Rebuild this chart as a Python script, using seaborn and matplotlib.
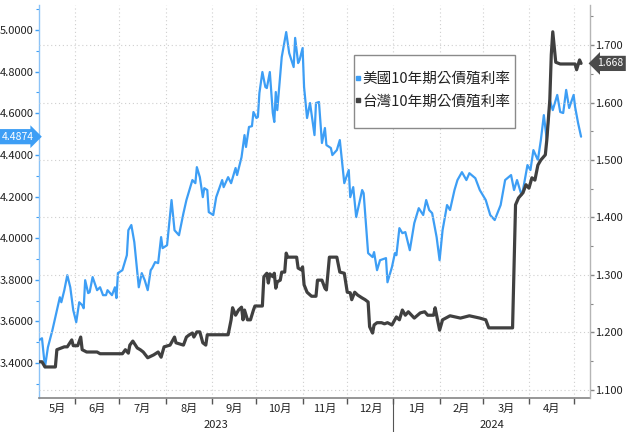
import matplotlib
matplotlib.use("Agg")
import matplotlib.pyplot as plt
import matplotlib.dates as mdates
import matplotlib.ticker as mticker
import matplotlib.transforms as mtrans
from matplotlib.lines import Line2D
from matplotlib.patches import Rectangle
import pandas as pd
import seaborn as sns

us_dates = [
    "2023-05-08", "2023-05-10", "2023-05-12", "2023-05-14", "2023-05-17", "2023-05-20", "2023-05-22", "2023-05-23",
    "2023-05-25", "2023-05-27", "2023-05-29", "2023-05-31", "2023-06-02", "2023-06-04", "2023-06-06", "2023-06-07",
    "2023-06-08", "2023-06-10", "2023-06-11", "2023-06-13", "2023-06-16", "2023-06-18", "2023-06-20", "2023-06-22",
    "2023-06-23", "2023-06-26", "2023-06-28", "2023-06-29", "2023-06-30", "2023-07-03", "2023-07-06", "2023-07-07",
    "2023-07-09", "2023-07-11", "2023-07-14", "2023-07-16", "2023-07-18", "2023-07-20", "2023-07-22", "2023-07-23",
    "2023-07-25", "2023-07-27", "2023-07-29", "2023-07-30", "2023-08-02", "2023-08-05", "2023-08-07", "2023-08-10",
    "2023-08-13", "2023-08-15", "2023-08-19", "2023-08-21", "2023-08-22", "2023-08-24", "2023-08-26", "2023-08-27",
    "2023-08-29", "2023-08-30", "2023-09-02", "2023-09-04", "2023-09-08", "2023-09-09", "2023-09-12", "2023-09-14",
    "2023-09-17", "2023-09-18", "2023-09-21", "2023-09-23", "2023-09-24", "2023-09-26", "2023-09-28", "2023-09-29",
    "2023-10-01", "2023-10-02", "2023-10-03", "2023-10-05", "2023-10-07", "2023-10-08", "2023-10-10", "2023-10-12",
    "2023-10-13", "2023-10-14", "2023-10-15", "2023-10-18", "2023-10-21", "2023-10-23", "2023-10-26", "2023-10-27",
    "2023-10-29", "2023-10-30", "2023-11-01", "2023-11-02", "2023-11-04", "2023-11-06", "2023-11-09", "2023-11-10",
    "2023-11-12", "2023-11-14", "2023-11-16", "2023-11-17", "2023-11-20", "2023-11-21", "2023-11-24", "2023-11-26",
    "2023-11-29", "2023-12-02", "2023-12-03", "2023-12-05", "2023-12-07", "2023-12-11", "2023-12-12", "2023-12-15",
    "2023-12-18", "2023-12-19", "2023-12-21", "2023-12-23", "2023-12-27", "2023-12-28", "2023-12-31", "2024-01-02",
    "2024-01-03", "2024-01-05", "2024-01-07", "2024-01-09", "2024-01-12", "2024-01-15", "2024-01-18", "2024-01-21",
    "2024-01-23", "2024-01-25", "2024-01-27", "2024-01-30", "2024-02-01", "2024-02-03", "2024-02-06", "2024-02-08",
    "2024-02-11", "2024-02-13", "2024-02-16", "2024-02-19", "2024-02-21", "2024-02-25", "2024-02-28", "2024-03-03",
    "2024-03-06", "2024-03-09", "2024-03-13", "2024-03-16", "2024-03-20", "2024-03-22", "2024-03-24", "2024-03-27",
    "2024-03-28", "2024-03-31", "2024-04-02", "2024-04-04", "2024-04-07", "2024-04-09", "2024-04-11", "2024-04-13",
    "2024-04-15", "2024-04-17", "2024-04-20", "2024-04-22", "2024-04-24", "2024-04-26", "2024-04-28", "2024-05-01",
    "2024-05-02", "2024-05-04", "2024-05-06",
]
us_yield = [
    3.510, 3.519, 3.380, 3.476, 3.558, 3.654, 3.716, 3.692,
    3.750, 3.822, 3.764, 3.654, 3.596, 3.692, 3.678, 3.663,
    3.798, 3.736, 3.740, 3.813, 3.750, 3.764, 3.726, 3.726,
    3.750, 3.726, 3.764, 3.712, 3.832, 3.846, 3.918, 4.038,
    4.063, 3.981, 3.764, 3.832, 3.798, 3.750, 3.846, 3.856,
    3.885, 3.880, 4.005, 3.952, 3.966, 4.183, 4.038, 4.014,
    4.120, 4.183, 4.279, 4.264, 4.341, 4.293, 4.197, 4.240,
    4.231, 4.125, 4.111, 4.197, 4.279, 4.245, 4.293, 4.264,
    4.337, 4.303, 4.389, 4.495, 4.438, 4.534, 4.538, 4.606,
    4.577, 4.582, 4.697, 4.798, 4.726, 4.721, 4.798, 4.601,
    4.558, 4.702, 4.615, 4.870, 4.990, 4.889, 4.822, 4.962,
    4.841, 4.856, 4.913, 4.726, 4.577, 4.649, 4.495, 4.649,
    4.654, 4.457, 4.529, 4.447, 4.433, 4.399, 4.423, 4.471,
    4.264, 4.327, 4.197, 4.245, 4.101, 4.231, 4.216, 3.928,
    3.909, 3.933, 3.846, 3.894, 3.904, 3.788, 3.861, 3.928,
    3.918, 4.048, 4.024, 4.029, 3.942, 4.072, 4.144, 4.111,
    4.183, 4.135, 4.120, 4.005, 3.894, 4.038, 4.159, 4.135,
    4.231, 4.279, 4.317, 4.279, 4.312, 4.288, 4.231, 4.183,
    4.111, 4.087, 4.159, 4.279, 4.303, 4.231, 4.279, 4.207,
    4.231, 4.351, 4.327, 4.423, 4.375, 4.471, 4.591, 4.471,
    4.663, 4.615, 4.688, 4.606, 4.601, 4.712, 4.625, 4.688,
    4.630, 4.553, 4.4874,
]

tw_dates = [
    "2023-05-08", "2023-05-10", "2023-05-12", "2023-05-19", "2023-05-20", "2023-05-23", "2023-05-25", "2023-05-27",
    "2023-05-30", "2023-05-31", "2023-06-03", "2023-06-05", "2023-06-06", "2023-06-09", "2023-06-16", "2023-06-18",
    "2023-07-03", "2023-07-05", "2023-07-07", "2023-07-08", "2023-07-10", "2023-07-13", "2023-07-15", "2023-07-17",
    "2023-07-20", "2023-07-24", "2023-07-27", "2023-07-29", "2023-07-31", "2023-08-04", "2023-08-07", "2023-08-08",
    "2023-08-13", "2023-08-15", "2023-08-17", "2023-08-19", "2023-08-20", "2023-08-22", "2023-08-24", "2023-08-26",
    "2023-08-28", "2023-08-29", "2023-09-12", "2023-09-14", "2023-09-15", "2023-09-17", "2023-09-19", "2023-09-21",
    "2023-09-22", "2023-09-23", "2023-09-25", "2023-09-27", "2023-09-29", "2023-09-30", "2023-10-05", "2023-10-06",
    "2023-10-08", "2023-10-09", "2023-10-10", "2023-10-12", "2023-10-13", "2023-10-14", "2023-10-15", "2023-10-17",
    "2023-10-18", "2023-10-20", "2023-10-21", "2023-10-22", "2023-10-28", "2023-10-29", "2023-10-31", "2023-11-01",
    "2023-11-02", "2023-11-04", "2023-11-07", "2023-11-10", "2023-11-11", "2023-11-14", "2023-11-16", "2023-11-17",
    "2023-11-19", "2023-11-24", "2023-11-26", "2023-11-29", "2023-12-01", "2023-12-03", "2023-12-04", "2023-12-06",
    "2023-12-08", "2023-12-11", "2023-12-13", "2023-12-15", "2023-12-16", "2023-12-18", "2023-12-19", "2023-12-21",
    "2023-12-24", "2023-12-26", "2023-12-28", "2023-12-31", "2024-01-03", "2024-01-05", "2024-01-07", "2024-01-09",
    "2024-01-11", "2024-01-15", "2024-01-19", "2024-01-22", "2024-01-24", "2024-01-28", "2024-01-29", "2024-02-01",
    "2024-02-03", "2024-02-08", "2024-02-15", "2024-02-21", "2024-02-28", "2024-03-03", "2024-03-05", "2024-03-21",
    "2024-03-23", "2024-03-25", "2024-03-28", "2024-03-30", "2024-04-01", "2024-04-03", "2024-04-05", "2024-04-07",
    "2024-04-09", "2024-04-12", "2024-04-13", "2024-04-15", "2024-04-16", "2024-04-17", "2024-04-19", "2024-04-22",
    "2024-05-02", "2024-05-03", "2024-05-05", "2024-05-06",
]
tw_yield = [
    1.149, 1.149, 1.140, 1.140, 1.170, 1.173, 1.175, 1.175,
    1.187, 1.177, 1.177, 1.192, 1.170, 1.166, 1.166, 1.163,
    1.163, 1.170, 1.164, 1.178, 1.185, 1.173, 1.170, 1.166,
    1.156, 1.161, 1.166, 1.157, 1.175, 1.178, 1.192, 1.182,
    1.178, 1.192, 1.196, 1.199, 1.192, 1.201, 1.201, 1.182,
    1.178, 1.196, 1.196, 1.222, 1.243, 1.230, 1.239, 1.244,
    1.222, 1.239, 1.222, 1.222, 1.239, 1.246, 1.246, 1.297,
    1.303, 1.286, 1.302, 1.297, 1.303, 1.277, 1.288, 1.291,
    1.305, 1.305, 1.338, 1.331, 1.331, 1.312, 1.309, 1.314,
    1.283, 1.270, 1.263, 1.263, 1.291, 1.291, 1.277, 1.274,
    1.331, 1.331, 1.305, 1.303, 1.270, 1.269, 1.257, 1.270,
    1.265, 1.260, 1.257, 1.253, 1.210, 1.199, 1.213, 1.217,
    1.217, 1.215, 1.217, 1.213, 1.227, 1.222, 1.239, 1.230,
    1.236, 1.225, 1.234, 1.236, 1.230, 1.230, 1.243, 1.204,
    1.222, 1.229, 1.225, 1.229, 1.225, 1.222, 1.208, 1.208,
    1.422, 1.434, 1.443, 1.457, 1.451, 1.469, 1.465, 1.491,
    1.500, 1.509, 1.535, 1.604, 1.683, 1.723, 1.670, 1.667,
    1.667, 1.657, 1.674, 1.668,
]

month_labels = ["5月", "6月", "7月", "8月", "9月", "10月", "11月", "12月", "1月", "2月", "3月", "4月"]
year_labels = ["2023", "2024"]
series_names = ["美國10年期公債殖利率", "台灣10年期公債殖利率"]

BLUE = "#3d9ef5"
DARK = "#404040"

sns.set_theme(style="white")
plt.rcParams["font.family"] = ["Liberation Sans Narrow", "Noto Sans CJK TC", "DejaVu Sans"]

us = pd.DataFrame({"date": pd.to_datetime(us_dates), "yield": us_yield})
tw = pd.DataFrame({"date": pd.to_datetime(tw_dates), "yield": tw_yield})

W, H = 627, 432
fig = plt.figure(figsize=(W / 100, H / 100), dpi=100)
ax = fig.add_axes([39 / W, 1 - 398 / H, (590 - 39) / W, (398 - 5) / H])
ax2 = ax.twinx()

sns.lineplot(data=us, x="date", y="yield", ax=ax, color=BLUE, linewidth=1.6, zorder=3)
sns.lineplot(data=tw, x="date", y="yield", ax=ax2, color=DARK, linewidth=2.3, zorder=3)

xmin, xmax = pd.Timestamp("2023-05-08"), pd.Timestamp("2024-05-12")
ax.set_xlim(xmin, xmax)
ax.set_ylim(3.232, 5.12)
ax2.set_ylim(1.086, 1.7696)

for a in (ax, ax2):
    a.set_xlabel("")
    a.set_ylabel("")

# left axis
ax.yaxis.set_major_locator(mticker.MultipleLocator(0.2))
ax.yaxis.set_minor_locator(mticker.MultipleLocator(0.1))
ax.yaxis.set_major_formatter(mticker.FormatStrFormatter("%.4f"))
ax.tick_params(axis="y", which="both", direction="out", left=True, colors=BLUE,
               labelcolor="#222222", labelsize=8, pad=1)
ax.tick_params(axis="y", which="major", length=3, width=1)
ax.tick_params(axis="y", which="minor", length=2, width=0.8)

# right axis
ax2.yaxis.set_major_locator(mticker.MultipleLocator(0.1))
ax2.yaxis.set_minor_locator(mticker.MultipleLocator(0.05))
ax2.yaxis.set_major_formatter(mticker.FormatStrFormatter("%.3f"))
ax2.tick_params(axis="y", which="both", direction="out", right=True, colors="#888888",
                labelcolor="#222222", labelsize=8, pad=1)
ax2.tick_params(axis="y", which="major", length=3, width=1)
ax2.tick_params(axis="y", which="minor", length=2, width=0.8)

# x axis: ticks at month starts, labels centered in months
month_starts = pd.date_range("2023-06-01", "2024-05-01", freq="MS")
ax.xaxis.set_major_locator(mticker.FixedLocator(mdates.date2num(month_starts)))
ax.xaxis.set_major_formatter(mticker.NullFormatter())
label_starts = pd.date_range("2023-05-01", "2024-04-01", freq="MS")
centers = []
for s in label_starts:
    e = s + pd.offsets.MonthBegin(1)
    lo, hi = max(s, xmin), min(e, xmax)
    centers.append(lo + (hi - lo) / 2)
ax.xaxis.set_minor_locator(mticker.FixedLocator(mdates.date2num(centers)))
ax.xaxis.set_minor_formatter(mticker.FixedFormatter(month_labels))
ax.tick_params(axis="x", which="major", direction="out", length=4, width=1, colors="#555555", bottom=True)
ax.tick_params(axis="x", which="minor", length=0, labelsize=8, labelcolor="#222222", pad=4)
ax2.tick_params(axis="x", which="both", length=0)

# grids
ax.grid(False)
ax2.grid(False)
ax.xaxis.grid(True, which="major", linestyle=(0, (1, 2.5)), color="#cfcfcf", linewidth=0.8)
ax2.yaxis.grid(True, which="major", linestyle=(0, (1, 2.5)), color="#cfcfcf", linewidth=0.8)
ax.set_axisbelow(True)
ax2.set_axisbelow(True)

# spines
for a in (ax, ax2):
    a.spines["top"].set_visible(False)
ax.spines["right"].set_visible(False)
ax2.spines["left"].set_visible(False)
ax.spines["left"].set_color("#8cc3f7")
ax.spines["left"].set_linewidth(1.0)
ax2.spines["right"].set_color("#b5b5b5")
ax2.spines["right"].set_linewidth(1.0)
ax.spines["bottom"].set_color("#8a8a8a")
ax2.spines["bottom"].set_visible(False)

# year labels and separator
blend = mtrans.blended_transform_factory(ax.transData, ax.transAxes)
jan1 = pd.Timestamp("2024-01-01")
year_pos = [xmin + (jan1 - xmin) / 2, jan1 + (xmax - jan1) / 2]
for yp, lab in zip(year_pos, year_labels):
    ax.text(yp, -0.068, lab, transform=blend, ha="center", va="center", fontsize=8, color="#222222")
ax.plot([jan1] * 2, [0, -0.09], transform=blend, clip_on=False, color="#555555", linewidth=0.8)

# last-value tags
ax.annotate(f"{us_yield[-1]:.4f}", xy=(0, us_yield[-1]), xycoords=("axes fraction", "data"),
            xytext=(-4, 0), textcoords="offset points", ha="right", va="center",
            fontsize=7.5, color="white",
            bbox=dict(boxstyle="rarrow,pad=0.25", fc="#3d9ef5", ec="none"))
ax2.annotate(f"{tw_yield[-1]:.3f}", xy=(1, tw_yield[-1]), xycoords=("axes fraction", "data"),
             xytext=(5, 0), textcoords="offset points", ha="left", va="center",
             fontsize=7.5, color="white",
             bbox=dict(boxstyle="larrow,pad=0.25", fc="#4a4a4a", ec="none"))

# legend: framed box with two entries
fig.patches.append(Rectangle((354 / W, 1 - 128 / H), 161 / W, 73 / H, transform=fig.transFigure,
                             facecolor="white", edgecolor="#8a8a8a", linewidth=1.0, zorder=5))
handles = [Line2D([], [], marker="s", linestyle="none", markersize=3.5, color=BLUE),
           Line2D([], [], marker="s", linestyle="none", markersize=3.5, color=DARK)]
leg = fig.legend(handles, series_names, loc="center left", bbox_to_anchor=(355 / W, 1 - 90 / H),
                 frameon=False, borderpad=0, labelspacing=0.6, handlelength=0.35,
                 handletextpad=0.15, borderaxespad=0,
                 prop={"family": ["Noto Sans CJK TC", "DejaVu Sans"], "size": 10.5})
leg.set_zorder(6)
for t in leg.get_texts():
    t.set_color("#222222")

fig.savefig("out.png", dpi=100)
